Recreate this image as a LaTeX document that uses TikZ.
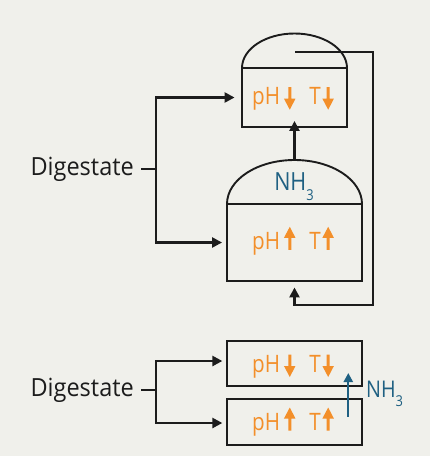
\documentclass[tikz,border=0pt]{standalone}
\usepackage{fontspec}
\setmainfont{Open Sans}[FakeStretch=0.94]
\newfontfamily\narrowfont{Open Sans}[FakeStretch=0.86]
\usetikzlibrary{arrows.meta}
\definecolor{bgc}{RGB}{240,240,235}
\definecolor{fhorange}{RGB}{243,143,42}
\definecolor{fhblue}{RGB}{31,96,130}
\definecolor{ink}{RGB}{28,28,28}
\newcommand{\dn}{\tikz[baseline=0pt,x=1pt,y=1pt]\fill[fhorange] (4.3,17.5) -- (7.3,17.5) -- (7.3,6) -- (11.5,6) -- (5.8,-5) -- (0,6) -- (4.3,6) -- cycle;}
\newcommand{\up}{\tikz[baseline=0pt,x=1pt,y=1pt]\fill[fhorange] (4.3,-0.5) -- (7.3,-0.5) -- (7.3,11.5) -- (11.5,11.5) -- (5.8,22.5) -- (0,11.5) -- (4.3,11.5) -- cycle;}
\newcommand{\nhthree}{NH\raisebox{-0.4em}{\fontsize{15}{15}\selectfont 3}}
\newcommand{\phdown}{pH\hspace{4pt}\dn\hspace{14pt}T\hspace{1.5pt}\dn}
\newcommand{\phup}{pH\hspace{4pt}\up\hspace{14pt}T\hspace{1.5pt}\up}
\begin{document}
\begin{tikzpicture}[x=1pt,y=-1pt,
  tank/.style={draw=ink, line width=1.9pt, inner sep=0pt},
  line/.style={draw=ink, line width=2.4pt},
  pipe/.style={draw=ink, line width=2.4pt, -{Triangle[length=10pt,width=10pt]}},
  bpipe/.style={draw=fhblue, line width=2.2pt, -{Triangle[length=9pt,width=9pt]}},
  lbl/.style={font=\fontsize{25}{29}\selectfont, text=ink, inner sep=0pt},
  nhlbl/.style={font=\narrowfont\fontsize{25}{29}\selectfont, text=fhblue, inner sep=0pt},
  phlbl/.style={font=\narrowfont\fontsize{24}{28}\selectfont, text=fhorange, inner sep=0pt}]
\fill[bgc] (0,0) rectangle (430,456);
\useasboundingbox (0,0) rectangle (430,456);

% ---------- upper scheme ----------
\node[tank, draw, minimum width=105pt, minimum height=59pt] (tankA) at (294.5,97.5) {};
\node[tank, draw, minimum width=135pt, minimum height=77pt] (tankB) at (294.5,242.5) {};
% domes (half ellipses)
\draw[tank] (242,68) .. controls (242,48.9) and (265.5,33.5) .. (294.5,33.5)
                     .. controls (323.5,33.5) and (347,48.9) .. (347,68);
\draw[tank] (227,204) .. controls (227,179.7) and (257.2,160) .. (294.5,160)
                     .. controls (331.8,160) and (362,179.7) .. (362,204);

\node[phlbl, anchor=base] (phA) at (293,104.7) {\phdown};
\node[phlbl, anchor=base] (phB) at (293,249.3) {\phup};
\node[nhlbl, anchor=base] (nhA) at (294,190) {\nhthree};

\node[lbl, anchor=east] (digA) at (134,169) {Digestate};
\coordinate (brA) at (156,169);
\draw[line] ([xshift=7pt]digA.east) -- (brA);
\draw[pipe, shorten >=6.5pt] (brA) |- (tankA.west);
\draw[pipe, shorten >=4pt] (brA) |- (tankB.west);

\coordinate (domeBtop) at (294.5,160);
\draw[pipe, shorten >=-7pt] (domeBtop) -- (tankA.south);

\coordinate (retStart) at (295,52);
\coordinate (retCornerA) at (373,52);
\coordinate (retCornerB) at (373,305);
\draw[pipe, shorten >=5.5pt] (retStart) -- (retCornerA) -- (retCornerB) -| (tankB.south);

% ---------- lower scheme ----------
\node[tank, draw, minimum width=135pt, minimum height=45pt] (tankC) at (294.5,363.5) {};
\node[tank, draw, minimum width=135pt, minimum height=46pt] (tankD) at (294.5,422) {};
\node[phlbl, anchor=base] (phC) at (293,372) {\phdown};
\node[phlbl, anchor=base] (phD) at (293,430) {\phup};

\node[lbl, anchor=east] (digB) at (134,390) {Digestate};
\coordinate (brB) at (156,390);
\draw[line] ([xshift=7pt]digB.east) -- (brB);
\draw[pipe, shorten >=3.7pt] (brB) |- ([yshift=2.5pt]tankC.west);
\draw[pipe, shorten >=3.7pt] (brB) |- ([yshift=-1pt]tankD.west);

\coordinate (nhFrom) at (348.3,416.7);
\coordinate (nhTo) at (348.3,373);
\draw[bpipe] (nhFrom) -- (nhTo);
\node[nhlbl, anchor=base west, font=\narrowfont\fontsize{23}{27}\selectfont] (nhB) at (366,397) {\nhthree};
\end{tikzpicture}
\end{document}
